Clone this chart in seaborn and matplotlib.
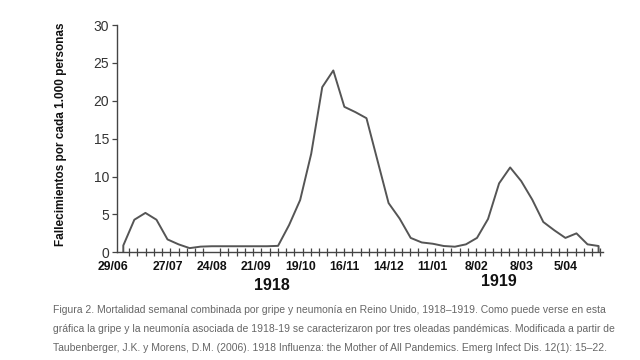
import numpy as np
import pandas as pd
import matplotlib
matplotlib.use('Agg')
import matplotlib.pyplot as plt
import matplotlib.transforms as mtransforms
import seaborn as sns

# Weekly combined influenza + pneumonia mortality, UK 1918-1919
weeks = [0, 0, 1, 2, 3, 4, 5, 6, 7, 8, 9, 10, 11, 12, 13, 14, 15, 16, 17, 18, 19,
         20, 21, 22, 23, 24, 25, 26, 27, 28, 29, 30, 31, 32, 33, 34, 35, 36, 37,
         38, 39, 40, 41, 42, 43, 43]
deaths = [0.0, 0.9, 4.3, 5.2, 4.3, 1.7, 1.05, 0.55, 0.75, 0.8, 0.8, 0.8, 0.8, 0.8,
          0.8, 0.85, 3.6, 6.9, 13.0, 21.8, 24.0, 19.2, 18.5, 17.7, 12.1, 6.5, 4.45,
          1.9, 1.3, 1.13, 0.83, 0.74, 1.05, 1.9, 4.4, 9.1, 11.2, 9.4, 6.95, 4.0,
          2.9, 1.9, 2.5, 1.05, 0.83, 0.0]
date_labels = ['29/06', '27/07', '24/08', '21/09', '19/10', '16/11', '14/12',
               '11/01', '8/02', '8/03', '5/04']
label_weeks = [0, 4, 8, 12, 16, 20, 24, 28, 32, 36, 40]
y_ticks = [0, 5, 10, 15, 20, 25, 30]
caption = [
    'Figura 2. Mortalidad semanal combinada por gripe y neumonía en Reino Unido, 1918–1919. Como puede verse en esta',
    'gráfica la gripe y la neumonía asociada de 1918-19 se caracterizaron por tres oleadas pandémicas. Modificada a partir de',
    'Taubenberger, J.K. y Morens, D.M. (2006). 1918 Influenza: the Mother of All Pandemics. Emerg Infect Dis. 12(1): 15–22.',
]

df = pd.DataFrame({'semana': weeks, 'fallecimientos': deaths})

sns.set_style('white')
plt.rcParams['font.family'] = ['Liberation Sans', 'DejaVu Sans']

fig = plt.figure(figsize=(6.4, 3.6), dpi=100)
ax = fig.add_axes([117 / 640, 1 - 252.3 / 360, 486 / 640, 227.3 / 360])

sns.lineplot(data=df, x='semana', y='fallecimientos', ax=ax, estimator=None,
             sort=False, color='#555555', linewidth=1.4)

ax.set_xlim(-0.57, 43.4)
ax.set_ylim(0, 30)
sns.despine(ax=ax)
for side in ['left', 'bottom']:
    ax.spines[side].set_color('#444444')
    ax.spines[side].set_linewidth(1.0)

ax.set_yticks(y_ticks)
ax.tick_params(axis='y', direction='out', length=3.5, width=0.9, color='#444444',
               labelsize=10, labelcolor='#333333', pad=2, left=True)

ax.set_xticks(label_weeks)
ax.set_xticklabels(date_labels, fontweight='bold', fontsize=8.8)
ax.tick_params(axis='x', which='major', length=0, pad=6, labelcolor='#111111')
ax.set_xticks(np.arange(0.52, 43.2, 0.748), minor=True)
ax.tick_params(axis='x', which='minor', direction='inout', length=5.5, width=0.9,
               color='#444444', bottom=True)
first = ax.get_xticklabels()[0]
first.set_transform(first.get_transform()
                    + mtransforms.ScaledTranslation(-10 / 100, 0, fig.dpi_scale_trans))

ax.set_xlabel('')
ax.set_ylabel('Fallecimientos por cada 1.000 personas', fontweight='bold',
              fontsize=8.5, color='#111111')
ax.yaxis.set_label_coords(-0.103, 0.52)

fig.text(272 / 640, 1 - 286 / 360, '1918', fontsize=11.5, fontweight='bold',
         ha='center', va='center', color='#111111')
fig.text(499 / 640, 1 - 282 / 360, '1919', fontsize=11.5, fontweight='bold',
         ha='center', va='center', color='#111111')

for i, line in enumerate(caption):
    fig.text(53 / 640, 1 - (310 + 19 * i) / 360, line, fontsize=7.5,
             color='#666666', ha='left', va='center')

fig.savefig('out.png', dpi=100)
